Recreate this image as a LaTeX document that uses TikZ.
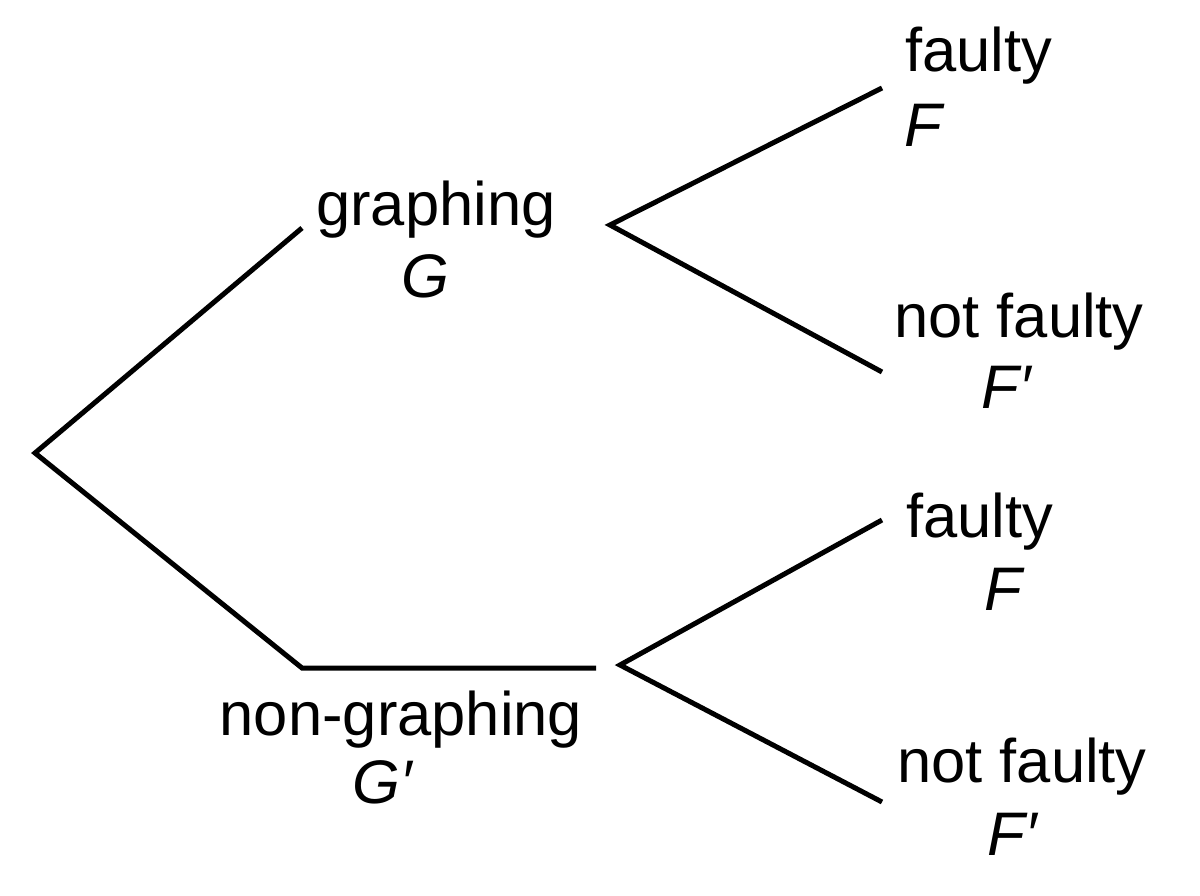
\documentclass[tikz,border=0pt]{standalone}
\usepackage{fontspec}
\setmainfont{Liberation Sans}
\begin{document}
\begin{tikzpicture}[x=1pt,y=-1pt,
  branch/.style={line width=5pt,line cap=butt,line join=miter},
  lbl/.style={anchor=base,inner sep=0pt,font=\fontsize{61.5}{61.5}\selectfont}]
\useasboundingbox[fill=white] (0,0) rectangle (1200,896);
% junction points
\coordinate (root) at (35,453);
\coordinate (gend) at (302,228);
\coordinate (ngstart) at (302,668);
\coordinate (ngend) at (596,668);
\coordinate (fork1) at (610,225);
\coordinate (f1a) at (882,88);
\coordinate (f1b) at (882,372);
\coordinate (fork2) at (620,665);
\coordinate (f2a) at (882,520);
\coordinate (f2b) at (882,802);
% labels
\node[lbl] (graphing) at (436,226) {graphing};
\node[lbl] (G) at (425,298) {\textit{G}};
\node[lbl] (nongraphing) at (401,735) {non-graphing};
\node[lbl] (Gp) at (383,803) {\textit{G′}};
\node[lbl] (faulty1) at (979,72) {faulty};
\node[lbl] (F1) at (925,147) {\textit{F}};
\node[lbl] (notfaulty1) at (1019,337) {not faulty};
\node[lbl] (Fp1) at (1007,408) {\textit{F′}};
\node[lbl] (faulty2) at (980,537) {faulty};
\node[lbl] (F2) at (1005,610) {\textit{F}};
\node[lbl] (notfaulty2) at (1022,782) {not faulty};
\node[lbl] (Fp2) at (1013,855) {\textit{F′}};
% branches
\draw[branch] (gend) -- (root) -- (ngstart) -- (ngend);
\draw[branch] (f1a) -- (fork1) -- (f1b);
\draw[branch] (f2a) -- (fork2) -- (f2b);
\end{tikzpicture}
\end{document}
